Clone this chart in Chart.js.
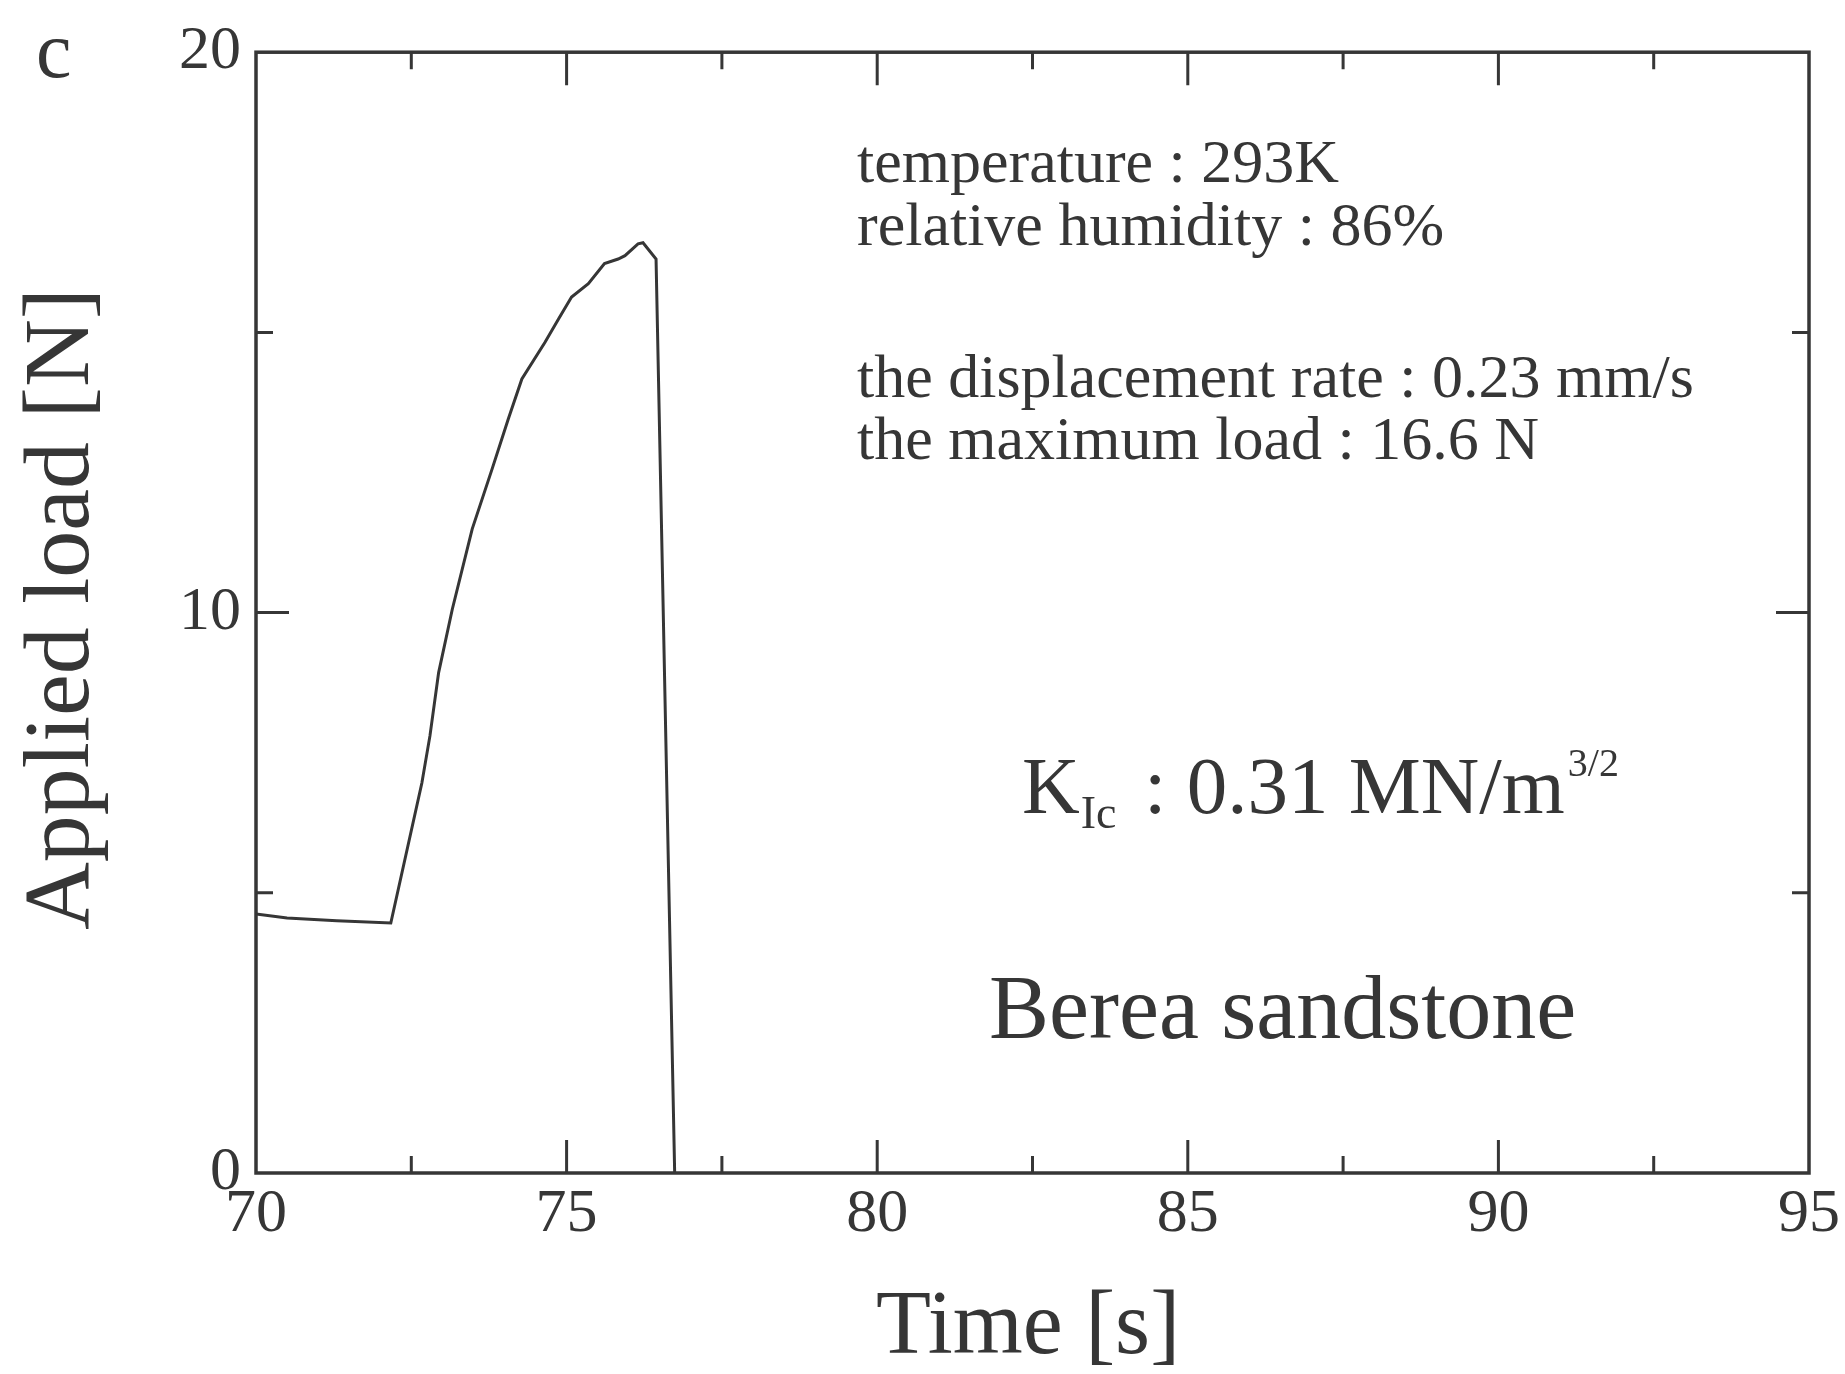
<!DOCTYPE html>
<html>
<head>
<meta charset="utf-8">
<script src="https://cdn.jsdelivr.net/npm/chart.js@4.4.1/dist/chart.umd.min.js"></script>
<style>
  html, body { margin: 0; padding: 0; background: #fff; }
  #wrap { width: 1845px; height: 1374px; position: relative; }
</style>
</head>
<body>
<div id="wrap"><canvas id="loadChart"></canvas></div>
<script>
// load curve
const timeSec = [70.0, 70.5, 71.3, 72.17, 72.67, 72.8, 72.94, 73.16, 73.48, 73.8, 74.06, 74.28, 74.65, 74.87, 75.08, 75.35, 75.61, 75.83, 75.94, 76.15, 76.23, 76.44, 76.74];
const loadN   = [4.62, 4.55, 4.5, 4.46, 6.96, 7.8, 8.93, 10.06, 11.49, 12.56, 13.45, 14.17, 14.82, 15.24, 15.63, 15.87, 16.23, 16.31, 16.37, 16.58, 16.6, 16.31, 0];

const xRange = [70, 95];
const yRange = [0, 20];
const xMajor = 5, xMinor = 2.5;
const yMajor = 10, yMinor = 5;

const infoLines = [
  "temperature : 293K",
  "relative humidity : 86%",
  "the displacement rate : 0.23 mm/s",
  "the maximum load : 16.6 N"
];
const rockName = "Berea sandstone";
const panelLetter = "c";

const ink = "#363636";
const serif = "'Liberation Serif', 'Times New Roman', serif";

// frame with inward ticks on all four sides
const framePlugin = {
  id: "frame",
  afterDatasetsDraw(chart) {
    const { ctx, chartArea: a, scales: { x, y } } = chart;
    ctx.save();
    ctx.strokeStyle = ink;
    ctx.lineWidth = 3.5;
    ctx.strokeRect(a.left, a.top, a.right - a.left, a.bottom - a.top);
    ctx.lineWidth = 3;
    ctx.beginPath();
    x.ticks.forEach(t => {
      if (t.value <= xRange[0] || t.value >= xRange[1]) return;
      const px = x.getPixelForValue(t.value);
      const len = t.value % xMajor === 0 ? 33 : 17;
      ctx.moveTo(px, a.bottom); ctx.lineTo(px, a.bottom - len);
      ctx.moveTo(px, a.top); ctx.lineTo(px, a.top + len);
    });
    y.ticks.forEach(t => {
      if (t.value <= yRange[0] || t.value >= yRange[1]) return;
      const py = y.getPixelForValue(t.value);
      const len = t.value % yMajor === 0 ? 33 : 17;
      ctx.moveTo(a.left, py); ctx.lineTo(a.left + len, py);
      ctx.moveTo(a.right, py); ctx.lineTo(a.right - len, py);
    });
    ctx.stroke();
    ctx.restore();
  }
};

// titles and the notes inside the plot
const textPlugin = {
  id: "notes",
  afterDraw(chart) {
    const { ctx } = chart;
    ctx.save();
    ctx.fillStyle = ink;
    ctx.textBaseline = "alphabetic";
    ctx.textAlign = "left";

    ctx.font = "80px " + serif;
    ctx.fillText(panelLetter, 36, 77);

    ctx.font = "62px " + serif;
    const baselines = [182, 245, 397, 459];
    infoLines.forEach((s, i) => ctx.fillText(s, 857, baselines[i]));

    // K_Ic : 0.31 MN/m^(3/2)
    let cx = 1022;
    ctx.font = "80px " + serif;
    ctx.fillText("K", cx, 813);
    cx += ctx.measureText("K").width + 1;
    ctx.font = "46px " + serif;
    ctx.fillText("Ic", cx, 828);
    cx = 1144;
    ctx.font = "81px " + serif;
    ctx.fillText(": 0.31 MN/m", cx, 813);
    cx += ctx.measureText(": 0.31 MN/m").width + 3;
    ctx.font = "40px " + serif;
    ctx.fillText("3/2", cx, 776);

    ctx.font = "90px " + serif;
    ctx.fillText(rockName, 989, 1038);

    ctx.textAlign = "center";
    ctx.font = "90px " + serif;
    ctx.fillText("Time [s]", 1028, 1353);

    ctx.translate(88, 609);
    ctx.rotate(-Math.PI / 2);
    ctx.font = "94px " + serif;
    ctx.fillText("Applied load [N]", 0, 0);
    ctx.restore();
  }
};

new Chart(document.getElementById("loadChart").getContext("2d"), {
  type: "line",
  data: {
    datasets: [{
      data: timeSec.map((t, i) => ({ x: t, y: loadN[i] })),
      borderColor: ink,
      borderWidth: 3,
      pointRadius: 0,
      tension: 0,
      fill: false
    }]
  },
  options: {
    responsive: true,
    maintainAspectRatio: false,
    animation: false,
    devicePixelRatio: 1,
    layout: { padding: { top: 47, right: 35, left: 0, bottom: 0 } },
    plugins: { legend: { display: false }, tooltip: { enabled: false } },
    scales: {
      x: {
        type: "linear",
        min: xRange[0], max: xRange[1],
        grid: { display: false, drawTicks: false },
        border: { display: false },
        ticks: {
          stepSize: xMinor, autoSkip: false, maxRotation: 0, padding: 5,
          color: ink, font: { family: serif, size: 62 },
          callback: v => (v % xMajor === 0 ? v : "")
        },
        afterFit: s => { s.height = 201; }
      },
      y: {
        type: "linear",
        min: yRange[0], max: yRange[1],
        grid: { display: false, drawTicks: false },
        border: { display: false },
        ticks: {
          stepSize: yMinor, autoSkip: false, padding: 15,
          color: ink, font: { family: serif, size: 62 },
          callback: v => (v % yMajor === 0 ? v : "")
        },
        afterFit: s => { s.width = 256; }
      }
    }
  },
  plugins: [framePlugin, textPlugin]
});
</script>
</body>
</html>
